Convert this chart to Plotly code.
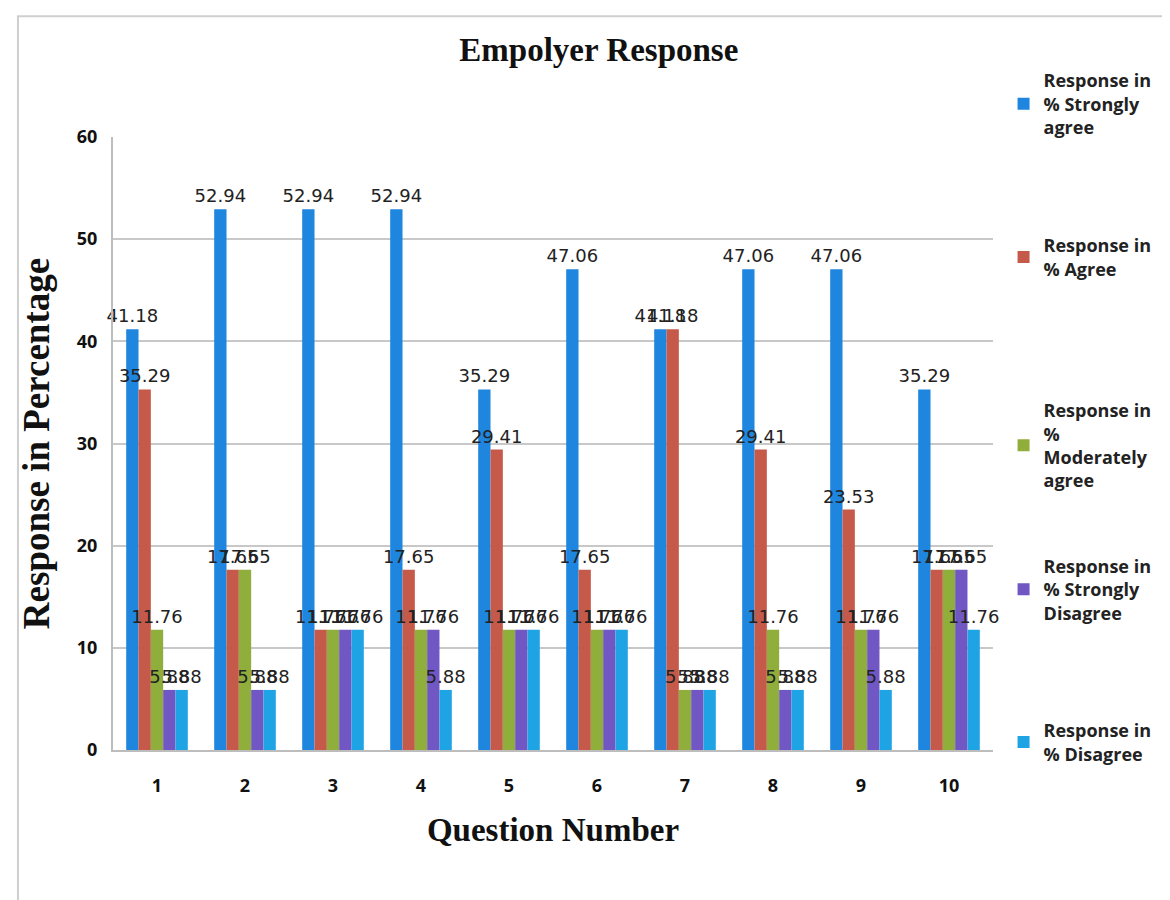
import plotly.graph_objects as go

questions = ["1", "2", "3", "4", "5", "6", "7", "8", "9", "10"]
strongly_agree = [41.18, 52.94, 52.94, 52.94, 35.29, 47.06, 41.18, 47.06, 47.06, 35.29]
agree = [35.29, 17.65, 11.76, 17.65, 29.41, 17.65, 41.18, 29.41, 23.53, 17.65]
moderately_agree = [11.76, 17.65, 11.76, 11.76, 11.76, 11.76, 5.88, 11.76, 11.76, 17.65]
strongly_disagree = [5.88, 5.88, 11.76, 11.76, 11.76, 11.76, 5.88, 5.88, 11.76, 17.65]
disagree = [5.88, 5.88, 11.76, 5.88, 11.76, 11.76, 5.88, 5.88, 5.88, 11.76]

series = [
    ("Response in<br>% Strongly<br>agree", strongly_agree, "#1f86e0"),
    ("Response in<br>% Agree", agree, "#c65a4a"),
    ("Response in<br>%<br>Moderately<br>agree", moderately_agree, "#8fae3c"),
    ("Response in<br>% Strongly<br>Disagree", strongly_disagree, "#7157c4"),
    ("Response in<br>% Disagree", disagree, "#1ea3e4"),
]
legend_tops = [1.122, 0.853, 0.584, 0.330, 0.062]

fig = go.Figure()
legend_names = ["legend", "legend2", "legend3", "legend4", "legend5"]
for i, (name, vals, color) in enumerate(series):
    fig.add_trace(go.Bar(
        x=questions, y=vals, name=name,
        marker=dict(color=color, line=dict(width=0)),
        text=[f"{v:.2f}" for v in vals],
        textposition="outside",
        constraintext="none",
        cliponaxis=False,
        textfont=dict(family="DejaVu Sans, Arial", size=18, color="#222222"),
        legend=legend_names[i],
        showlegend=True,
    ))

legend_style = dict(
    x=1.012, xanchor="left", yanchor="top",
    font=dict(family="Open Sans, Arial", size=18, color="#222222", weight="bold"),
    itemwidth=30, bgcolor="rgba(0,0,0,0)", maxheight=600, visible=True,
)
legends = {}
for i, ln in enumerate(legend_names):
    legends[ln] = dict(legend_style, y=legend_tops[i])

fig.update_layout(
    width=1170, height=900,
    showlegend=True,
    paper_bgcolor="white", plot_bgcolor="white",
    barmode="group", bargap=0.3, bargroupgap=0.0,
    margin=dict(l=105, r=185, t=129, b=158),
    title=dict(text="<b>Empolyer Response</b>", x=0.505, xanchor="center", y=0.954, yanchor="middle",
               font=dict(family="Liberation Serif, Times New Roman", size=33, color="#111111")),
    xaxis=dict(
        title=dict(text="<b>Question Number</b>", standoff=22,
                   font=dict(family="Liberation Serif, Times New Roman", size=33, color="#111111")),
        tickfont=dict(family="Open Sans, Arial", size=18, color="#111111", weight="bold"),
        showline=True, linecolor="#bdbdbd", linewidth=2,
        ticks="outside", ticklen=18, tickcolor="rgba(0,0,0,0)", showgrid=False,
    ),
    yaxis=dict(
        title=dict(text="<b>Response in Percentage</b>", standoff=16,
                   font=dict(family="Liberation Serif, Times New Roman", size=37, color="#111111")),
        range=[0, 60], dtick=10,
        tickfont=dict(family="Open Sans, Arial", size=18, color="#111111", weight="bold"),
        showgrid=True, gridcolor="#c8c8c8", gridwidth=1.5,
        showline=True, linecolor="#bdbdbd", linewidth=2,
        zeroline=False, ticks="outside", ticklen=10, tickcolor="rgba(0,0,0,0)",
    ),
    shapes=[dict(type="rect", xref="paper", yref="paper", x0=-0.108, x1=1.202, y0=-0.28, y1=1.197,
                 line=dict(color="#cfcfcf", width=2))],
    **legends,
)

fig.write_html("out.html")
